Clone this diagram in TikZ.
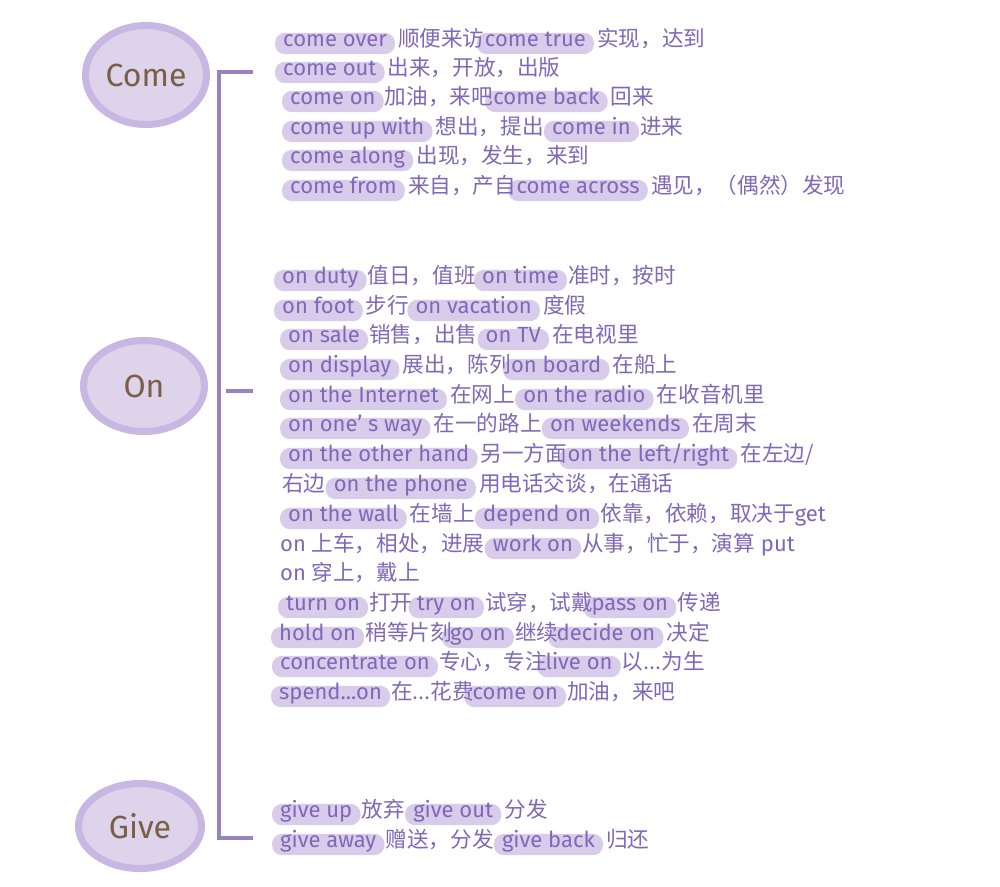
\documentclass[tikz,border=0pt]{standalone}
\usepackage{fontspec}
\setmainfont{Fira Sans}
\newfontfamily\cjk{Noto Sans CJK SC}
\usetikzlibrary{shapes.geometric,backgrounds}
\definecolor{txtc}{HTML}{8068B8}
\definecolor{hlc}{HTML}{D8CCEA}
\definecolor{ellf}{HTML}{DDD3EA}
\definecolor{elld}{HTML}{C8B6E3}
\definecolor{brkc}{HTML}{9683BF}
\definecolor{namec}{HTML}{7A5E46}
\newcommand\fsl{\fontsize{22}{24}\selectfont}
\newcommand\fsc{\fontsize{21.6}{24}\selectfont}
\tikzset{
  tx/.style={anchor=base west, inner sep=0pt, text=txtc, font=\fsc\cjk},
  hb/.style={anchor=base west, inner xsep=8pt, inner ysep=0pt,
             text height=13pt, text depth=8pt, text=txtc, font=\fsl},
  bar/.style={fill=hlc, rounded corners=10pt},
  cat/.style={ellipse, fill=ellf, draw=elld, line width=7pt, inner sep=0pt, text=namec,
              font=\fontsize{32}{34}\selectfont},
  brk/.style={draw=brkc, line width=4pt}
}
\begin{document}
\begin{tikzpicture}[x=1pt,y=-1pt]
\useasboundingbox (0,0) rectangle (1000,886);
% category ellipses
\node[cat, minimum width=121pt, minimum height=99pt] (come) at (146,75) {Come};
\node[cat, minimum width=121pt, minimum height=91pt] (on) at (144,386) {On};
\node[cat, minimum width=123pt, minimum height=85pt] (give) at (140,826) {Give};
% bracket
\coordinate (bt) at (253,72);
\coordinate (bc) at (219,72);
\coordinate (bb) at (253,838);
\coordinate (t1) at (226,391);
\coordinate (t2) at (253,391);
\draw[brk] (bt) -- (bc) |- (bb);
\draw[brk] (t1) -- (t2);
% ---------- Come ----------
\node[hb] (c1a) at (275,46) {come over};
\node[tx] (c1b) at ([xshift=3pt]c1a.base east) {顺便来访};
\node[hb] (c1c) at ([xshift=-8pt]c1b.base east) {come true};
\node[tx] (c1d) at ([xshift=3pt]c1c.base east) {实现，达到};
\node[hb] (c2a) at (275,75) {come out};
\node[tx] (c2b) at ([xshift=3pt]c2a.base east) {出来，开放，出版};
\node[hb] (c3a) at (282,104) {come on};
\node[tx] (c3b) at ([xshift=1pt]c3a.base east) {加油，来吧};
\node[hb] (c3c) at ([xshift=-8pt]c3b.base east) {come back};
\node[tx] (c3d) at ([xshift=3pt]c3c.base east) {回来};
\node[hb] (c4a) at (282,134) {come up with};
\node[tx] (c4b) at ([xshift=3pt]c4a.base east) {想出，提出};
\node[hb] (c4c) at (c4b.base east) {come in};
\node[tx] (c4d) at ([xshift=1pt]c4c.base east) {进来};
\node[hb] (c5a) at (282,163) {come along};
\node[tx] (c5b) at ([xshift=3pt]c5a.base east) {出现，发生，来到};
\node[hb] (c6a) at (282,193) {come from};
\node[tx] (c6b) at ([xshift=3pt]c6a.base east) {来自，产自};
\node[hb] (c6c) at ([xshift=-8pt]c6b.base east) {come across};
\node[tx] (c6d) at ([xshift=3pt]c6c.base east) {遇见，（偶然）发现};
% ---------- On ----------
\node[hb] (o1a) at (274,283) {on duty};
\node[tx] (o1b) at ([xshift=1pt]o1a.base east) {值日，值班};
\node[hb] (o1c) at ([xshift=-2pt]o1b.base east) {on time};
\node[tx] (o1d) at ([xshift=1pt]o1c.base east) {准时，按时};
\node[hb] (o2a) at (274,313) {on foot};
\node[tx] (o2b) at ([xshift=3pt]o2a.base east) {步行};
\node[hb] (o2c) at ([xshift=-2pt]o2b.base east) {on vacation};
\node[tx] (o2d) at ([xshift=3pt]o2c.base east) {度假};
\node[hb] (o3a) at (280,342) {on sale};
\node[tx] (o3b) at ([xshift=1pt]o3a.base east) {销售，出售};
\node[hb] (o3c) at (o3b.base east) {on TV};
\node[tx] (o3d) at ([xshift=3pt]o3c.base east) {在电视里};
\node[hb] (o4a) at (280,372) {on display};
\node[tx] (o4b) at ([xshift=3pt]o4a.base east) {展出，陈列};
\node[hb] (o4c) at ([xshift=-8pt]o4b.base east) {on board};
\node[tx] (o4d) at ([xshift=3pt]o4c.base east) {在船上};
\node[hb] (o5a) at (280,402) {on the Internet};
\node[tx] (o5b) at ([xshift=3pt]o5a.base east) {在网上};
\node[hb] (o5c) at (o5b.base east) {on the radio};
\node[tx] (o5d) at ([xshift=3pt]o5c.base east) {在收音机里};
\node[hb] (o6a) at (280,431) {on one’ s way};
\node[tx] (o6b) at ([xshift=3pt]o6a.base east) {在一的路上};
\node[hb] (o6c) at (o6b.base east) {on weekends};
\node[tx] (o6d) at ([xshift=3pt]o6c.base east) {在周末};
\node[hb] (o7a) at (280,461) {on the other hand};
\node[tx] (o7b) at ([xshift=3pt]o7a.base east) {另一方面};
\node[hb] (o7c) at ([xshift=-8pt]o7b.base east) {on the left/right};
\node[tx] (o7d) at ([xshift=3pt]o7c.base east) {在左边/};
\node[tx] (o8a) at (282,491) {右边};
\node[hb] (o8b) at (o8a.base east) {on the phone};
\node[tx] (o8c) at ([xshift=3pt]o8b.base east) {用电话交谈，在通话};
\node[hb] (o9a) at (280,521) {on the wall};
\node[tx] (o9b) at ([xshift=3pt]o9a.base east) {在墙上};
\node[hb] (o9c) at (o9b.base east) {depend on};
\node[tx] (o9d) at ([xshift=1pt]o9c.base east) {依靠，依赖，取决于{\rmfamily\fsl get}};
\node[tx] (o10a) at (280,551) {{\rmfamily\fsl on }上车，相处，进展};
\node[hb] (o10b) at (o10a.base east) {work on};
\node[tx] (o10c) at ([xshift=1pt]o10b.base east) {从事，忙于，演算{\rmfamily\fsl\ put}};
\node[tx] (o11a) at (280,580) {{\rmfamily\fsl on }穿上，戴上};
\node[hb] (o12a) at (278,610) {turn on};
\node[tx] (o12b) at ([xshift=1pt]o12a.base east) {打开};
\node[hb] (o12c) at ([xshift=-4pt]o12b.base east) {try on};
\node[tx] (o12d) at ([xshift=1pt]o12c.base east) {试穿，试戴};
\node[hb] (o12e) at ([xshift=-10pt]o12d.base east) {pass on};
\node[tx] (o12f) at ([xshift=1pt]o12e.base east) {传递};
\node[hb] (o13a) at (271,640) {hold on};
\node[tx] (o13b) at ([xshift=1pt]o13a.base east) {稍等片刻};
\node[hb] (o13c) at ([xshift=-10pt]o13b.base east) {go on};
\node[tx] (o13d) at ([xshift=1pt]o13c.base east) {继续};
\node[hb] (o13e) at ([xshift=-10pt]o13d.base east) {decide on};
\node[tx] (o13f) at ([xshift=3pt]o13e.base east) {决定};
\node[hb] (o14a) at (272,669) {concentrate on};
\node[tx] (o14b) at ([xshift=1pt]o14a.base east) {专心，专注};
\node[hb] (o14c) at ([xshift=-10pt]o14b.base east) {live on};
\node[tx] (o14d) at ([xshift=1pt]o14c.base east) {以...为生};
\node[hb] (o15a) at (271,699) {spend...on};
\node[tx] (o15b) at ([xshift=1pt]o15a.base east) {在...花费};
\node[hb] (o15c) at ([xshift=-10pt]o15b.base east) {come on};
\node[tx] (o15d) at ([xshift=1pt]o15c.base east) {加油，来吧};
% ---------- Give ----------
\node[hb] (g1a) at (272,817) {give up};
\node[tx] (g1b) at ([xshift=1pt]g1a.base east) {放弃};
\node[hb] (g1c) at (g1b.base east) {give out};
\node[tx] (g1d) at ([xshift=3pt]g1c.base east) {分发};
\node[hb] (g2a) at (272,847) {give away};
\node[tx] (g2b) at ([xshift=1pt]g2a.base east) {赠送，分发};
\node[hb] (g2c) at (g2b.base east) {give back};
\node[tx] (g2d) at ([xshift=3pt]g2c.base east) {归还};
% white page and highlight bars behind the phrases
\begin{scope}[on background layer]
\fill[white] (0,0) rectangle (1000,886);
\foreach \n in {c1a,c1c,c2a,c3a,c3c,c4a,c4c,c5a,c6a,c6c,
                o1a,o1c,o2a,o2c,o3a,o3c,o4a,o4c,o5a,o5c,o6a,o6c,o7a,o7c,o8b,o9a,o9c,
                o10b,o12a,o12c,o12e,o13a,o13c,o13e,o14a,o14c,o15a,o15c,
                g1a,g1c,g2a,g2c}
  \fill[bar] (\n.south west) rectangle (\n.north east);
\end{scope}
\end{tikzpicture}
\end{document}
